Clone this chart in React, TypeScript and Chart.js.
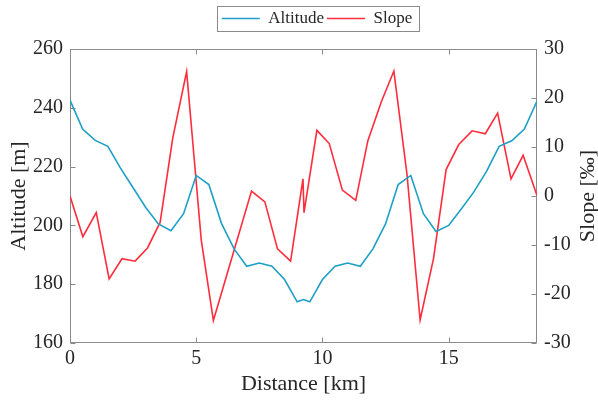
import React, { useEffect, useRef } from "react";
import { Chart, registerables } from "chart.js";

Chart.register(...registerables);

const altitudeKm = [
  0, 0.5, 1.0, 1.5, 2.0, 2.5, 3.0, 3.5, 4.0, 4.5, 5.0, 5.5, 6.0, 6.5, 7.0, 7.5, 8.0, 8.5, 9.0,
  9.25, 9.5, 10.0, 10.5, 11.0, 11.5, 12.0, 12.5, 13.0, 13.5, 14.0, 14.5, 15.0, 15.5, 16.0, 16.5,
  17.0, 17.5, 18.0, 18.5,
];
const altitudeM = [
  242.6, 232.8, 228.9, 226.9, 219.5, 212.8, 206.1, 200.5, 198.2, 204.0, 217.0, 213.9, 200.7,
  192.0, 186.1, 187.2, 186.1, 181.6, 174.0, 174.8, 174.0, 181.6, 186.1, 187.2, 186.1, 192.0,
  200.5, 213.9, 217.0, 204.0, 197.9, 200.0, 205.6, 211.4, 218.4, 226.9, 228.8, 232.8, 242.3,
];
const slopeKm = [
  0, 0.51, 1.04, 1.55, 2.06, 2.58, 3.07, 3.57, 4.07, 4.62, 5.2, 5.68, 7.19, 7.72, 8.22, 8.74,
  9.23, 9.27, 9.78, 10.27, 10.79, 11.32, 11.8, 12.33, 12.83, 13.35, 13.87, 14.4, 14.9, 15.4,
  15.93, 16.45, 16.94, 17.47, 17.95, 18.5,
];
const slopePermille = [
  0.0, -8.3, -3.4, -16.9, -12.8, -13.3, -10.6, -5.4, 11.8, 25.4, -9.0, -25.4, 1.0, -1.2, -10.8,
  -13.3, 3.5, -3.4, 13.4, 10.7, 1.2, -0.9, 11.3, 19.2, 25.5, 4.4, -25.3, -12.8, 5.4, 10.5, 13.3,
  12.7, 16.9, 3.5, 8.3, 0.1,
];

const xTicksStep = 5;
const altitudeRange = [160, 260];
const slopeRange = [-30, 30];
const distanceRange = [0, 18.5];

const FONT = "'Liberation Serif', 'Times New Roman', serif";
const TEXT = "#262626";
const FRAME = "#8a8a8a";
const BLUE = "#1e9fc6";
const RED = "#ff2d3c";

const framePlugin = {
  id: "frame",
  afterLayout(chart: any) {
    const lg = chart.legend;
    if (lg) {
      const dx = 18;
      lg.left += dx;
      lg.right += dx;
      const h = lg.bottom - lg.top;
      lg.top = 7;
      lg.bottom = 7 + h;
    }
  },
  beforeDatasetsDraw(chart: any) {
    const { ctx, chartArea: a, scales } = chart;
    ctx.save();
    ctx.strokeStyle = FRAME;
    ctx.lineWidth = 1;
    const L = Math.round(a.left) + 0.5;
    const R = Math.round(a.right) - 0.5;
    const T = Math.round(a.top) + 0.5;
    const B = Math.round(a.bottom) - 0.5;
    ctx.strokeRect(L, T, R - L, B - T);
    const tl = 5;
    ctx.beginPath();
    scales.x.ticks.forEach((t: any) => {
      const px = Math.round(scales.x.getPixelForValue(t.value)) + 0.5;
      ctx.moveTo(px, T);
      ctx.lineTo(px, T + tl);
      ctx.moveTo(px, B);
      ctx.lineTo(px, B - tl);
    });
    scales.y.ticks.forEach((t: any) => {
      const py = Math.round(scales.y.getPixelForValue(t.value)) + 0.5;
      ctx.moveTo(L, py);
      ctx.lineTo(L + tl, py);
    });
    scales.y1.ticks.forEach((t: any) => {
      const py = Math.round(scales.y1.getPixelForValue(t.value)) + 0.5;
      ctx.moveTo(R, py);
      ctx.lineTo(R - tl, py);
    });
    ctx.stroke();
    ctx.restore();
  },
  afterDraw(chart: any) {
    const { ctx, chartArea: a } = chart;
    ctx.save();
    const lg = chart.legend;
    if (lg && lg.legendHitBoxes && lg.legendHitBoxes.length) {
      const hb = lg.legendHitBoxes;
      let l = Infinity;
      let r = -Infinity;
      hb.forEach((b: any) => {
        l = Math.min(l, b.left);
        r = Math.max(r, b.left + b.width);
      });
      const top = hb[0].top;
      const hgt = hb[0].height;
      ctx.strokeStyle = FRAME;
      ctx.lineWidth = 1;
      ctx.strokeRect(Math.round(l - 5) + 0.5, Math.round(top - 4) + 0.5, Math.round(r - l + 12), Math.round(hgt + 8));
    }
    ctx.fillStyle = TEXT;
    ctx.font = `22px ${FONT}`;
    ctx.textAlign = "center";
    ctx.textBaseline = "middle";
    ctx.translate(588, (a.top + a.bottom) / 2);
    ctx.rotate(-Math.PI / 2);
    ctx.fillText("Slope [‰]", 0, 0);
    ctx.restore();
  },
};

export default function App() {
  const ref = useRef<HTMLCanvasElement | null>(null);
  useEffect(() => {
    document.body.style.margin = "0";
    if (!ref.current) return;
    const chart = new Chart(ref.current, {
      type: "line",
      data: {
        datasets: [
          {
            label: "Altitude",
            data: altitudeKm.map((x, i) => ({ x, y: altitudeM[i] })),
            borderColor: BLUE,
            backgroundColor: BLUE,
            borderWidth: 1.6,
            pointRadius: 0,
            yAxisID: "y",
          },
          {
            label: "Slope",
            data: slopeKm.map((x, i) => ({ x, y: slopePermille[i] })),
            borderColor: RED,
            backgroundColor: RED,
            borderWidth: 1.6,
            pointRadius: 0,
            yAxisID: "y1",
          },
        ],
      },
      options: {
        animation: false,
        responsive: true,
        maintainAspectRatio: false,
        layout: { padding: { top: 19, left: 0, right: 0, bottom: 0 } },
        plugins: {
          tooltip: { enabled: false },
          legend: {
            display: true,
            position: "top",
            labels: {
              usePointStyle: true,
              pointStyle: "line",
              pointStyleWidth: 38,
              padding: 3,
              color: TEXT,
              font: { family: FONT, size: 17 },
              generateLabels: (c: any) =>
                c.data.datasets.map((d: any, i: number) => ({
                  text: d.label,
                  strokeStyle: d.borderColor,
                  fillStyle: d.borderColor,
                  lineWidth: 1.6,
                  pointStyle: "line",
                  datasetIndex: i,
                  fontColor: TEXT,
                  hidden: false,
                })),
            },
          },
        },
        scales: {
          x: {
            type: "linear",
            min: distanceRange[0],
            max: distanceRange[1],
            afterFit: (s: any) => {
              s.height = 59;
            },
            grid: { display: false, drawTicks: false },
            border: { display: false },
            ticks: {
              stepSize: xTicksStep,
              includeBounds: false,
              color: TEXT,
              padding: 4,
              maxRotation: 0,
              font: { family: FONT, size: 20 },
            },
            title: {
              display: true,
              text: "Distance [km]",
              color: TEXT,
              font: { family: FONT, size: 22 },
              padding: { top: 0, bottom: 5 },
            },
          },
          y: {
            type: "linear",
            position: "left",
            min: altitudeRange[0],
            max: altitudeRange[1],
            afterFit: (s: any) => {
              s.width = 70;
            },
            grid: { display: false, drawTicks: false },
            border: { display: false },
            ticks: {
              stepSize: 20,
              color: TEXT,
              padding: 7,
              font: { family: FONT, size: 20 },
            },
            title: {
              display: true,
              text: "Altitude [m]",
              color: TEXT,
              font: { family: FONT, size: 22 },
              padding: { top: 6, bottom: 0 },
            },
          },
          y1: {
            type: "linear",
            position: "right",
            min: slopeRange[0],
            max: slopeRange[1],
            afterFit: (s: any) => {
              s.width = 61;
            },
            grid: { display: false, drawTicks: false },
            border: { display: false },
            ticks: {
              stepSize: 10,
              color: TEXT,
              padding: 7,
              font: { family: FONT, size: 20 },
            },
          },
        },
      },
      plugins: [framePlugin],
    });
    return () => chart.destroy();
  }, []);
  return (
    <div style={{ position: "relative", width: 598, height: 402 }}>
      <canvas ref={ref} />
    </div>
  );
}
